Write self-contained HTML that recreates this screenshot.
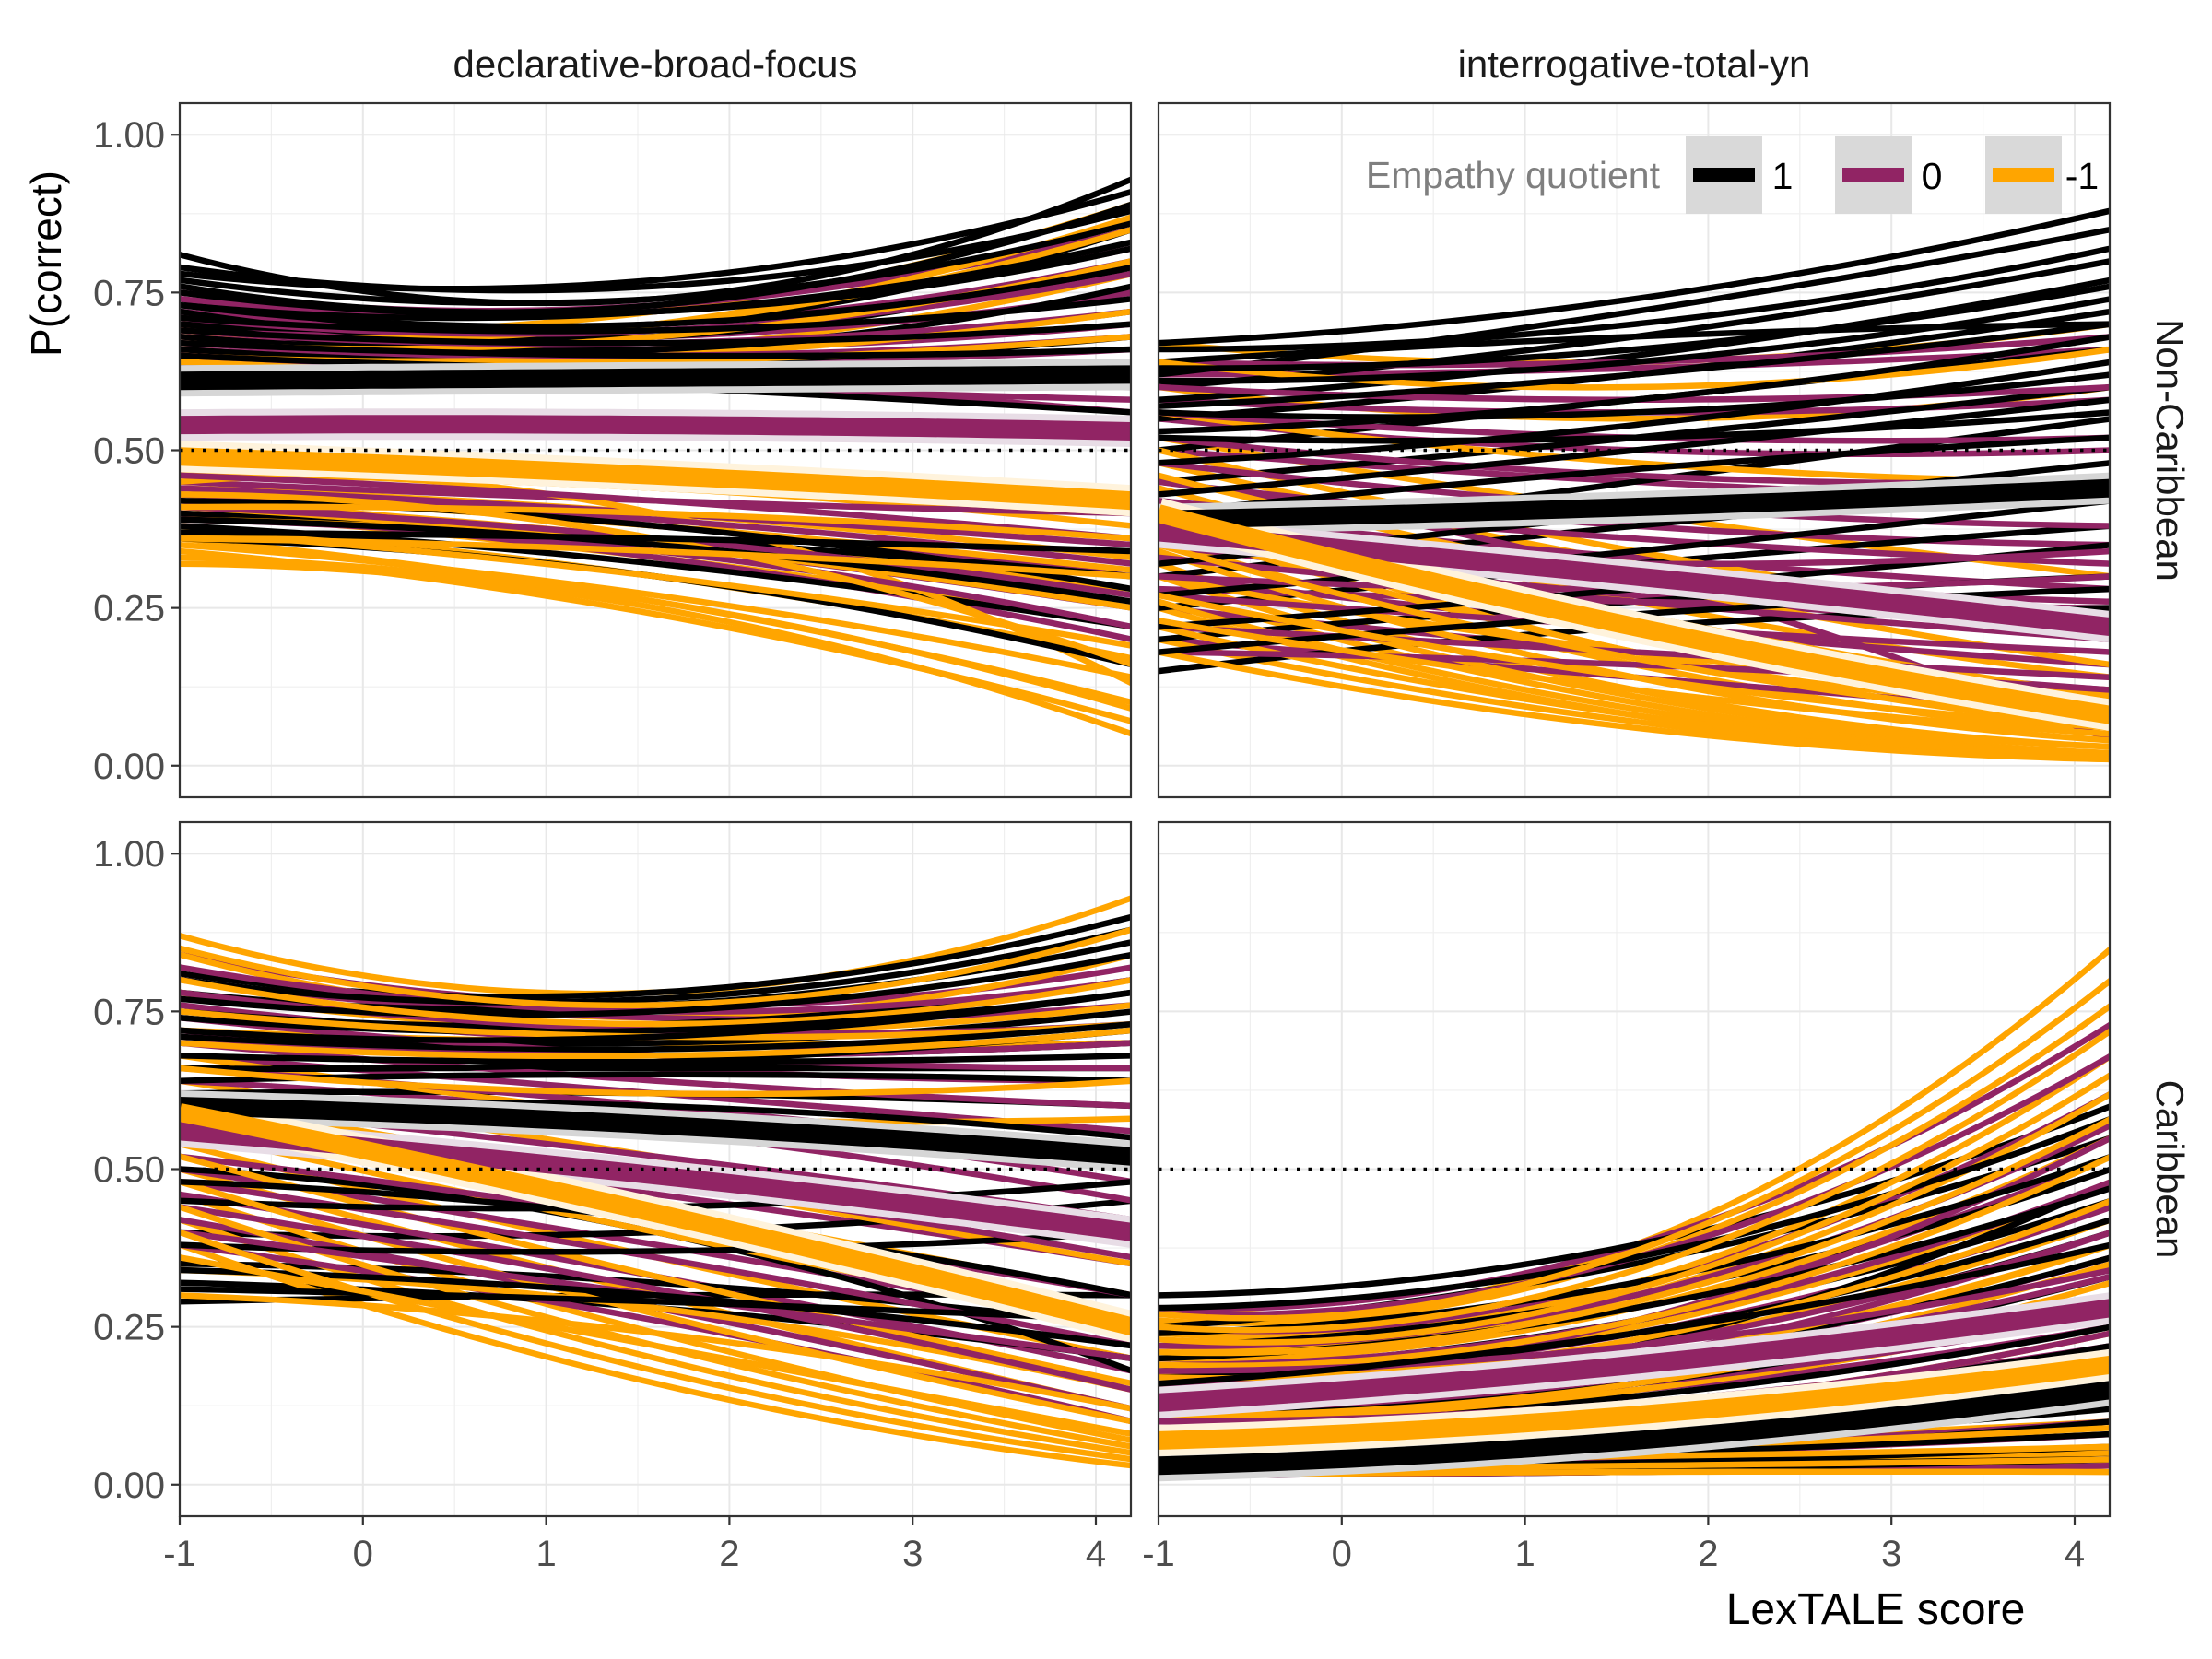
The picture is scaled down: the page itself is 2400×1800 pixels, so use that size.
<!DOCTYPE html>
<html><head><meta charset="utf-8"><style>
html,body{margin:0;padding:0;background:#fff}
svg{display:block}
text{font-family:"Liberation Sans",sans-serif}
</style></head><body>
<svg id="chart" width="2400" height="1800" viewBox="0 0 2400 1800" xmlns="http://www.w3.org/2000/svg"></svg>
<script>
// ---- data ----
const groups = ["1","0","-1"];
const xKnots = [-1, 1.6, 4.2];
const yTicks = [0, 0.25, 0.5, 0.75, 1.0];
const yTickLabels = ["0.00","0.25","0.50","0.75","1.00"];
const xTicks = [-1, 0, 1, 2, 3, 4];
const xTickLabels = ["-1","0","1","2","3","4"];
const colTitles = ["declarative-broad-focus","interrogative-total-yn"];
const rowTitles = ["Non-Caribbean","Caribbean"];
const chance = 0.5;

const tlBlack = [[0.81,0.74,0.93],[0.78,0.77,0.91],[0.76,0.73,0.89],[0.74,0.70,0.85],[0.72,0.68,0.80],[0.70,0.66,0.76],[0.68,0.66,0.72],[0.66,0.64,0.68],[0.64,0.62,0.60],[0.40,0.36,0.30],[0.38,0.32,0.22],[0.36,0.30,0.16],[0.70,0.70,0.78],[0.73,0.72,0.83]];
const tlBlack2 = [[0.79,0.76,0.88],[0.77,0.74,0.86],[0.75,0.72,0.82],[0.73,0.70,0.79],[0.71,0.69,0.74],[0.69,0.67,0.70],[0.67,0.65,0.66],[0.65,0.63,0.64],[0.42,0.38,0.28],[0.39,0.35,0.26],[0.37,0.36,0.34],[0.63,0.60,0.56]];
const tlPurple = [[0.75,0.73,0.85],[0.72,0.70,0.80],[0.70,0.68,0.75],[0.68,0.66,0.70],[0.66,0.64,0.66],[0.62,0.60,0.58],[0.45,0.42,0.40],[0.43,0.38,0.30],[0.42,0.35,0.25],[0.40,0.33,0.20],[0.44,0.40,0.35],[0.64,0.63,0.62]];
const tlPurple2 = [[0.74,0.72,0.82],[0.71,0.69,0.78],[0.69,0.67,0.72],[0.67,0.65,0.68],[0.65,0.62,0.60],[0.63,0.61,0.56],[0.46,0.42,0.36],[0.41,0.36,0.27],[0.39,0.34,0.22],[0.43,0.39,0.32],[0.47,0.45,0.42]];
const tlOrange = [[0.70,0.72,0.89],[0.68,0.70,0.87],[0.66,0.66,0.78],[0.46,0.44,0.38],[0.44,0.40,0.33],[0.42,0.36,0.28],[0.40,0.33,0.22],[0.38,0.30,0.17],[0.36,0.26,0.10],[0.34,0.24,0.07],[0.32,0.25,0.05],[0.45,0.40,0.13],[0.39,0.35,0.25]];
const tlOrange2 = [[0.69,0.70,0.85],[0.67,0.68,0.80],[0.65,0.65,0.72],[0.64,0.64,0.68],[0.47,0.44,0.40],[0.43,0.38,0.31],[0.41,0.35,0.25],[0.37,0.30,0.19],[0.35,0.27,0.14],[0.33,0.26,0.09],[0.43,0.36,0.16],[0.41,0.40,0.36],[0.36,0.34,0.30]];
const tlMeans = [[0.61,0.615,0.62],[0.54,0.54,0.53],[0.49,0.46,0.42]];

const trBlack = [[0.67,0.74,0.88],[0.62,0.72,0.85],[0.60,0.68,0.80],[0.58,0.65,0.77],[0.55,0.62,0.72],[0.50,0.58,0.66],[0.45,0.52,0.60],[0.35,0.45,0.55],[0.30,0.38,0.45],[0.25,0.32,0.38],[0.20,0.26,0.30],[0.15,0.22,0.25],[0.64,0.68,0.70]];
const trBlack2 = [[0.66,0.70,0.82],[0.63,0.66,0.76],[0.61,0.64,0.74],[0.57,0.62,0.70],[0.53,0.58,0.68],[0.48,0.54,0.64],[0.43,0.50,0.58],[0.40,0.47,0.52],[0.32,0.40,0.48],[0.27,0.34,0.42],[0.22,0.28,0.35],[0.18,0.24,0.28],[0.56,0.56,0.62],[0.52,0.52,0.56]];
const trPurple = [[0.62,0.63,0.66],[0.58,0.56,0.58],[0.55,0.50,0.50],[0.50,0.45,0.42],[0.45,0.38,0.35],[0.40,0.33,0.28],[0.35,0.27,0.22],[0.30,0.22,0.16],[0.25,0.18,0.12],[0.20,0.14,0.08],[0.45,0.30,0.04],[0.28,0.26,0.25]];
const trPurple2 = [[0.64,0.64,0.68],[0.60,0.58,0.60],[0.56,0.52,0.52],[0.52,0.46,0.45],[0.48,0.41,0.38],[0.42,0.36,0.32],[0.38,0.30,0.26],[0.33,0.26,0.20],[0.27,0.22,0.18],[0.22,0.18,0.14],[0.18,0.16,0.12],[0.30,0.28,0.30],[0.35,0.32,0.34]];
const trOrange = [[0.67,0.64,0.70],[0.60,0.55,0.60],[0.52,0.40,0.30],[0.48,0.32,0.20],[0.44,0.26,0.14],[0.40,0.20,0.08],[0.36,0.16,0.05],[0.32,0.12,0.03],[0.28,0.10,0.02],[0.25,0.08,0.01],[0.20,0.07,0.01],[0.42,0.18,0.10],[0.30,0.18,0.12]];
const trOrange2 = [[0.64,0.60,0.66],[0.56,0.48,0.45],[0.50,0.34,0.22],[0.46,0.29,0.16],[0.42,0.24,0.11],[0.38,0.18,0.06],[0.34,0.14,0.04],[0.30,0.11,0.03],[0.26,0.09,0.02],[0.22,0.08,0.015],[0.18,0.06,0.01],[0.35,0.17,0.07],[0.27,0.14,0.06],[0.23,0.12,0.05]];
const trMeans = [[0.39,0.41,0.44],[0.37,0.30,0.22],[0.40,0.22,0.08]];

const blBlack = [[0.81,0.78,0.90],[0.78,0.76,0.86],[0.75,0.73,0.80],[0.72,0.70,0.75],[0.70,0.68,0.70],[0.66,0.66,0.66],[0.62,0.62,0.60],[0.40,0.40,0.45],[0.35,0.32,0.25],[0.32,0.28,0.20],[0.29,0.30,0.30],[0.50,0.40,0.18]];
const blBlack2 = [[0.80,0.77,0.88],[0.77,0.75,0.84],[0.74,0.72,0.78],[0.71,0.69,0.73],[0.68,0.67,0.68],[0.64,0.65,0.64],[0.60,0.60,0.55],[0.45,0.44,0.48],[0.38,0.37,0.40],[0.34,0.30,0.22],[0.31,0.29,0.26],[0.48,0.42,0.30],[0.66,0.67,0.72],[0.72,0.71,0.78]];
const blPurple = [[0.84,0.76,0.82],[0.80,0.74,0.76],[0.76,0.70,0.70],[0.72,0.66,0.64],[0.68,0.62,0.56],[0.64,0.58,0.48],[0.55,0.46,0.35],[0.50,0.38,0.25],[0.46,0.33,0.18],[0.42,0.28,0.12],[0.38,0.26,0.10],[0.60,0.52,0.42]];
const blPurple2 = [[0.82,0.75,0.80],[0.78,0.72,0.73],[0.74,0.68,0.66],[0.70,0.64,0.60],[0.66,0.60,0.52],[0.62,0.56,0.45],[0.52,0.42,0.30],[0.48,0.36,0.22],[0.44,0.31,0.15],[0.40,0.30,0.20],[0.70,0.68,0.70],[0.58,0.48,0.36]];
const blOrange = [[0.87,0.78,0.93],[0.84,0.74,0.84],[0.78,0.72,0.76],[0.72,0.70,0.70],[0.64,0.52,0.40],[0.58,0.44,0.30],[0.54,0.36,0.20],[0.50,0.30,0.12],[0.46,0.24,0.07],[0.42,0.20,0.05],[0.38,0.16,0.03],[0.34,0.28,0.15],[0.62,0.58,0.58]];
const blOrange2 = [[0.85,0.76,0.88],[0.80,0.73,0.80],[0.75,0.71,0.73],[0.68,0.58,0.50],[0.61,0.48,0.35],[0.56,0.40,0.25],[0.52,0.33,0.16],[0.48,0.27,0.10],[0.44,0.22,0.06],[0.40,0.18,0.04],[0.36,0.22,0.08],[0.30,0.24,0.12],[0.66,0.62,0.64],[0.70,0.68,0.72]];
const blMeans = [[0.60,0.57,0.52],[0.56,0.49,0.40],[0.59,0.43,0.25]];

const brBlack = [[0.30,0.38,0.60],[0.25,0.35,0.55],[0.22,0.30,0.50],[0.18,0.26,0.45],[0.15,0.22,0.40],[0.12,0.18,0.33],[0.10,0.14,0.25],[0.05,0.07,0.12],[0.03,0.05,0.08],[0.02,0.03,0.05],[0.015,0.02,0.03],[0.14,0.22,0.48]];
const brBlack2 = [[0.28,0.36,0.58],[0.24,0.32,0.52],[0.20,0.28,0.47],[0.17,0.24,0.42],[0.14,0.20,0.36],[0.11,0.16,0.30],[0.08,0.12,0.22],[0.06,0.08,0.14],[0.04,0.05,0.10],[0.025,0.035,0.06],[0.02,0.025,0.04],[0.16,0.24,0.38],[0.13,0.18,0.28]];
const brPurple = [[0.28,0.38,0.73],[0.24,0.32,0.62],[0.20,0.28,0.52],[0.17,0.24,0.44],[0.15,0.20,0.36],[0.13,0.18,0.30],[0.11,0.15,0.25],[0.09,0.12,0.20],[0.04,0.05,0.08],[0.02,0.03,0.04],[0.16,0.26,0.55],[0.12,0.20,0.40]];
const brPurple2 = [[0.27,0.36,0.68],[0.22,0.30,0.57],[0.19,0.26,0.48],[0.16,0.22,0.40],[0.14,0.19,0.33],[0.12,0.16,0.27],[0.10,0.13,0.22],[0.07,0.09,0.15],[0.05,0.06,0.10],[0.03,0.04,0.06],[0.015,0.02,0.03],[0.18,0.22,0.34],[0.08,0.12,0.24]];
const brOrange = [[0.28,0.38,0.85],[0.26,0.36,0.76],[0.24,0.32,0.68],[0.22,0.30,0.62],[0.20,0.28,0.55],[0.18,0.25,0.48],[0.15,0.22,0.42],[0.12,0.18,0.35],[0.10,0.15,0.28],[0.06,0.07,0.10],[0.03,0.04,0.05],[0.02,0.02,0.03],[0.16,0.20,0.38]];
const brOrange2 = [[0.27,0.37,0.80],[0.25,0.34,0.72],[0.23,0.31,0.65],[0.21,0.29,0.58],[0.19,0.26,0.52],[0.17,0.23,0.45],[0.14,0.20,0.38],[0.11,0.16,0.32],[0.08,0.12,0.24],[0.05,0.06,0.09],[0.04,0.045,0.06],[0.025,0.03,0.04],[0.015,0.02,0.02]];
const brMeans = [[0.03,0.07,0.15],[0.13,0.19,0.28],[0.07,0.11,0.19]];

// ---- layout ----
const NS = "http://www.w3.org/2000/svg";
const svg = document.getElementById('chart');
const colors = ["#000000","#912464","#FFA500"];
const haloColors = ["#D6D6D6","#E8DDE6","#FFF3DC"];
const colX = [195, 1257];
const panelW = 1032;
const rowY = [112, 892];
const panelH = 753;
const panels = [
  {r:0,c:0,lines:[tlBlack.concat(tlBlack2),tlPurple.concat(tlPurple2),tlOrange.concat(tlOrange2)],means:tlMeans,name:"declarative-non-caribbean"},
  {r:0,c:1,lines:[trBlack.concat(trBlack2),trPurple.concat(trPurple2),trOrange.concat(trOrange2)],means:trMeans,name:"interrogative-non-caribbean"},
  {r:1,c:0,lines:[blBlack.concat(blBlack2),blPurple.concat(blPurple2),blOrange.concat(blOrange2)],means:blMeans,name:"declarative-caribbean"},
  {r:1,c:1,lines:[brBlack.concat(brBlack2),brPurple.concat(brPurple2),brOrange.concat(brOrange2)],means:brMeans,name:"interrogative-caribbean"}
];
function mk(tag, attrs, parent){const e=document.createElementNS(NS,tag);for(const k in attrs)e.setAttribute(k,attrs[k]);(parent||svg).appendChild(e);return e;}
function xScale(c,v){return colX[c] + (v+1)*198.8;}
function yScale(r,v){return rowY[r] + panelH - (v+0.05)/1.1*panelH;}
function curve(p,r,c){
  const [x0,x1,x2]=xKnots; let d="";
  for(let i=0;i<=40;i++){
    const x=x0+(x2-x0)*i/40;
    const y=p[0]*(x-x1)*(x-x2)/((x0-x1)*(x0-x2))+p[1]*(x-x0)*(x-x2)/((x1-x0)*(x1-x2))+p[2]*(x-x0)*(x-x1)/((x2-x0)*(x2-x1));
    const yc=Math.max(0.005,Math.min(0.995,y));
    d+=(i?"L":"M")+xScale(c,x).toFixed(1)+","+yScale(r,yc).toFixed(1);
  }
  return d;
}
const defs = mk('defs',{});
panels.forEach((P,i)=>{
  const cp=mk('clipPath',{id:'clip'+i},defs);
  mk('rect',{x:colX[P.c],y:rowY[P.r],width:panelW,height:panelH},cp);
});

panels.forEach((P,pi)=>{
  const r=P.r,c=P.c,x0=colX[c],y0=rowY[r];
  const g=mk('g',{});
  
  
  mk('rect',{x:x0,y:y0,width:panelW,height:panelH,fill:"#fff"},g);
  const grid=mk('g',{},g);
  
  
  for(let k=0;k<yTicks.length-1;k++){const v=(yTicks[k]+yTicks[k+1])/2;mk('line',{x1:x0,x2:x0+panelW,y1:yScale(r,v),y2:yScale(r,v),stroke:"#EFEFEF","stroke-width":1.2},grid);}
  for(let k=0;k<xTicks.length;k++){const v=xTicks[k]+0.5;if(xScale(c,v)<x0+panelW)mk('line',{x1:xScale(c,v),x2:xScale(c,v),y1:y0,y2:y0+panelH,stroke:"#EFEFEF","stroke-width":1.2},grid);}
  yTicks.forEach(v=>mk('line',{x1:x0,x2:x0+panelW,y1:yScale(r,v),y2:yScale(r,v),stroke:"#E8E8E8","stroke-width":2},grid));
  xTicks.forEach(v=>mk('line',{x1:xScale(c,v),x2:xScale(c,v),y1:y0,y2:y0+panelH,stroke:"#E8E8E8","stroke-width":2},grid));
  const data=mk('g',{"clip-path":"url(#clip"+pi+")"},g);
  const maxN=Math.max(...P.lines.map(a=>a.length));
  for(let k=0;k<maxN;k++){
    [2,1,0].forEach(gi=>{
      const arr=P.lines[gi]; if(k>=arr.length)return;
      const ln=mk('path',{d:curve(arr[k],r,c),fill:"none",stroke:colors[gi],"stroke-width":6.5},data);
      
      
    });
  }
  [0,1,2].forEach(gi=>{
    const h=mk('path',{d:curve(P.means[gi],r,c),fill:"none",stroke:haloColors[gi],"stroke-width":34},data);
    
    
  });
  [0,1,2].forEach(gi=>{
    const m=mk('path',{d:curve(P.means[gi],r,c),fill:"none",stroke:colors[gi],"stroke-width":20},data);
    
    
  });
  const ch=mk('line',{x1:x0,x2:x0+panelW,y1:yScale(r,chance),y2:yScale(r,chance),stroke:"#000","stroke-width":3.5,"stroke-dasharray":"3.5 9"},g);
  
  
  const bd=mk('rect',{x:x0,y:y0,width:panelW,height:panelH,fill:"none",stroke:"#333","stroke-width":2.2},g);
  
  
  if(c===0){
    yTicks.forEach((v,k)=>{
      mk('line',{x1:x0-10,x2:x0,y1:yScale(r,v),y2:yScale(r,v),stroke:"#333","stroke-width":2.2},g);
      const t=mk('text',{x:x0-16,y:yScale(r,v)+14,"text-anchor":"end","font-size":40,fill:"#4D4D4D"},g);
      t.textContent=yTickLabels[k];
      
      
    });
  }
  if(r===1){
    xTicks.forEach((v,k)=>{
      mk('line',{x1:xScale(c,v),x2:xScale(c,v),y1:y0+panelH,y2:y0+panelH+10,stroke:"#333","stroke-width":2.2},g);
      const t=mk('text',{x:xScale(c,v),y:y0+panelH+54,"text-anchor":"middle","font-size":40,fill:"#4D4D4D"},g);
      t.textContent=xTickLabels[k];
      
      
    });
  }
});
colTitles.forEach((s,c)=>{
  const t=mk('text',{x:colX[c]+panelW/2,y:84,"text-anchor":"middle","font-size":42,fill:"#1A1A1A"});
  t.textContent=s;
  
  
});
rowTitles.forEach((s,r)=>{
  const cx=2340, cy=rowY[r]+panelH/2;
  const t=mk('text',{x:cx,y:cy,"text-anchor":"middle","font-size":42,fill:"#1A1A1A",transform:"rotate(90 "+cx+" "+cy+")"});
  t.textContent=s;
  
  
});
const yt=mk('text',{x:66,y:286,"text-anchor":"middle","font-size":46,fill:"#000",transform:"rotate(-90 66 286)"});
yt.textContent="P(correct)";


const xt=mk('text',{x:2035,y:1762,"text-anchor":"middle","font-size":48,fill:"#000"});
xt.textContent="LexTALE score";


// legend
const lg=mk('g',{});


const lt=mk('text',{x:1801,y:204,"text-anchor":"end","font-size":41,fill:"#7F7F7F"},lg);
lt.textContent="Empathy quotient";


const keyX=[1829,1991,2154];
groups.forEach((gname,gi)=>{
  const e=mk('g',{},lg);
  
  
  mk('rect',{x:keyX[gi],y:148,width:83,height:84,fill:"#D9D9D9"},e);
  mk('line',{x1:keyX[gi]+8,x2:keyX[gi]+75,y1:190,y2:190,stroke:colors[gi],"stroke-width":16},e);
  const t=mk('text',{x:keyX[gi]+105,y:205,"text-anchor":"middle","font-size":41,fill:"#000"},e);
  t.textContent=gname;
});
</script>
</body></html>
